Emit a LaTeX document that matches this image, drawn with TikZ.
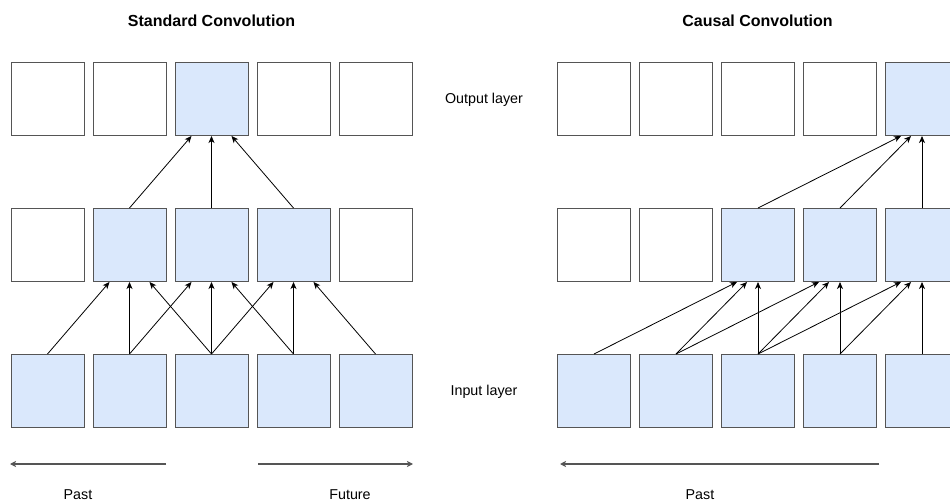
\documentclass[tikz,border=0pt]{standalone}
\usepackage{fontspec}
\setmainfont{Liberation Sans}
\usetikzlibrary{arrows.meta,calc}
\definecolor{cellblue}{HTML}{DAE8FC}
\definecolor{cellline}{HTML}{555555}
\tikzset{
  cell/.style={draw=cellline, line width=1pt, minimum width=73pt, minimum height=73pt, inner sep=0pt, fill=white},
  active/.style={cell, fill=cellblue},
  link/.style={line width=0.8pt, -{Stealth[length=7pt,width=6pt,inset=2pt]}},
  timeline/.style={draw=cellline, line width=1.4pt, -{Stealth[length=6pt,width=6pt,inset=1.5pt]}},
  title/.style={font=\bfseries\fontsize{16pt}{18pt}\selectfont},
  caption/.style={font=\fontsize{14.3pt}{17pt}\selectfont},
}
\begin{document}
\begin{tikzpicture}[x=1pt,y=-1pt]
\useasboundingbox (0,0) rectangle (950,502);
\clip (0,0) rectangle (950,502);

% ---- standard convolution ----
\node[title] (t1) at (211.5,21) {Standard Convolution};
\foreach \i/\x in {1/47.5,2/129.5,3/211.5,4/293.5,5/375.5}{
  \node[active] (si\i) at (\x,391) {};
}
\node[cell]   (sm1) at (47.5,245) {};
\node[active] (sm2) at (129.5,245) {};
\node[active] (sm3) at (211.5,245) {};
\node[active] (sm4) at (293.5,245) {};
\node[cell]   (sm5) at (375.5,245) {};
\node[cell]   (so1) at (47.5,99) {};
\node[cell]   (so2) at (129.5,99) {};
\node[active] (so3) at (211.5,99) {};
\node[cell]   (so4) at (293.5,99) {};
\node[cell]   (so5) at (375.5,99) {};

\foreach \m/\a/\b/\c in {2/1/2/3,3/2/3/4,4/3/4/5}{
  \draw[link] (si\a.north) -- ($(sm\m.south)+(-20,0)$);
  \draw[link] (si\b.north) -- (sm\m.south);
  \draw[link] (si\c.north) -- ($(sm\m.south)+(20,0)$);
}
\draw[link] (sm2.north) -- ($(so3.south)+(-20,0)$);
\draw[link] (sm3.north) -- (so3.south);
\draw[link] (sm4.north) -- ($(so3.south)+(20,0)$);

% ---- causal convolution ----
\node[title] (t2) at (757.5,21) {Causal Convolution};
\foreach \i/\x in {1/594,2/676,3/758,4/840,5/922}{
  \node[active] (ci\i) at (\x,391) {};
}
\node[cell]   (cm1) at (594,245) {};
\node[cell]   (cm2) at (676,245) {};
\node[active] (cm3) at (758,245) {};
\node[active] (cm4) at (840,245) {};
\node[active] (cm5) at (922,245) {};
\node[cell]   (co1) at (594,99) {};
\node[cell]   (co2) at (676,99) {};
\node[cell]   (co3) at (758,99) {};
\node[cell]   (co4) at (840,99) {};
\node[active] (co5) at (922,99) {};

\foreach \m/\a/\b in {3/1/2,4/2/3,5/3/4}{
  \draw[link] (ci\a.north) -- ($(cm\m.south)+(-21,0)$);
  \draw[link] (ci\b.north) -- ($(cm\m.south)+(-11,0)$);
  \draw[link] (ci\m.north) -- (cm\m.south);
}
\draw[link] (cm3.north) -- ($(co5.south)+(-21,0)$);
\draw[link] (cm4.north) -- ($(co5.south)+(-11,0)$);
\draw[link] (cm5.north) -- (co5.south);

% ---- layer names ----
\node[caption] (lo) at (484,100) {Output layer};
\node[caption] (li) at (484,392) {Input layer};

% ---- time direction ----
\coordinate (pa0) at (166,464);
\coordinate (pa1) at (10,464);
\coordinate (fu0) at (258,464);
\coordinate (fu1) at (413,464);
\coordinate (cp0) at (879,464);
\coordinate (cp1) at (560,464);
\draw[timeline] (pa0) -- (pa1);
\draw[timeline] (fu0) -- (fu1);
\draw[timeline] (cp0) -- (cp1);
\node[caption] (past1) at (78,495) {Past};
\node[caption] (fut)   at (350,495) {Future};
\node[caption] (past2) at (700,495) {Past};
\end{tikzpicture}
\end{document}
